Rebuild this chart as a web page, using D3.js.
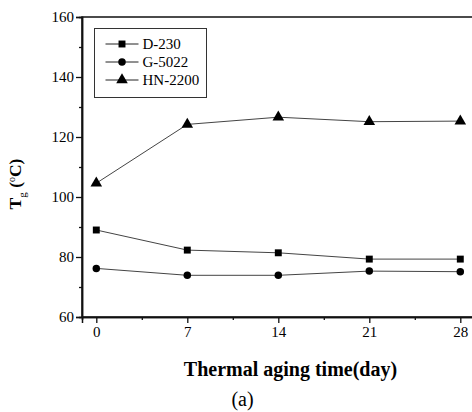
<!DOCTYPE html>
<html>
<head>
<meta charset="utf-8">
<script src="https://cdn.jsdelivr.net/npm/d3@7"></script>
<style>
  body { margin: 0; background: #fff; }
  text { font-family: "Liberation Serif", "Times New Roman", serif; fill: #000; }
</style>
</head>
<body>
<div id="chart"></div>
<script>
// data
var days = [0, 7, 14, 21, 28];
var d230 = [89.0, 82.3, 81.4, 79.3, 79.3];
var g5022 = [76.2, 73.9, 73.9, 75.3, 75.1];
var hn2200 = [104.6, 124.2, 126.6, 125.1, 125.3];
var seriesNames = ["D-230", "G-5022", "HN-2200"];
var yTicks = [60, 80, 100, 120, 140, 160];

var svgWidth = 472;
var svgHeight = 412;

var margin = { top: 17, right: 0, bottom: 95, left: 82 };

var svg = d3.select("#chart")
    .append("svg")
    .attr("width", svgWidth)
    .attr("height", svgHeight);

var xScale = d3.scaleLinear()
    .domain([-1.1, 29])
    .range([margin.left, margin.left + 391.3]);

var yScale = d3.scaleLinear()
    .domain([60, 160])
    .range([svgHeight - margin.bottom, margin.top]);

// frame
svg.append("rect")
    .attr("x", margin.left)
    .attr("y", margin.top)
    .attr("width", 400)
    .attr("height", yScale(60) - margin.top)
    .attr("fill", "none")
    .attr("stroke", "#111")
    .attr("stroke-width", 1.5);

// axes
var xAxis = d3.axisBottom(xScale)
    .tickValues(days)
    .tickSize(6)
    .tickPadding(3)
    .tickFormat(d3.format("d"));

var xMinor = d3.axisBottom(xScale)
    .tickValues([3.5, 10.5, 17.5, 24.5])
    .tickSize(3)
    .tickFormat("");

var yAxis = d3.axisLeft(yScale)
    .tickValues(yTicks)
    .tickSize(6)
    .tickPadding(2);

var yMinor = d3.axisLeft(yScale)
    .tickValues([70, 90, 110, 130, 150])
    .tickSize(3)
    .tickFormat("");

[xAxis, xMinor].forEach(function(ax) {
    svg.append("g")
        .attr("transform", `translate(0, ${yScale(60)})`)
        .call(ax);
});
[yAxis, yMinor].forEach(function(ax) {
    svg.append("g")
        .attr("transform", `translate(${margin.left}, 0)`)
        .call(ax);
});

svg.selectAll(".domain").attr("stroke", "#111").attr("stroke-width", 1.5);
svg.selectAll(".tick line").attr("stroke", "#111").attr("stroke-width", 1.3);
svg.selectAll(".tick text")
    .style("font-family", "Liberation Serif, serif")
    .style("font-size", "15px")
    .attr("fill", "#000");

// series
var allSeries = [d230, g5022, hn2200];
var shapes = [d3.symbolSquare, d3.symbolCircle, d3.symbolTriangle];
var sizes = [48, 44, 58];

var line = d3.line()
    .x((d, i) => xScale(days[i]))
    .y(d => yScale(d));

allSeries.forEach(function(vals, k) {
    svg.append("path")
        .datum(vals)
        .attr("d", line)
        .attr("fill", "none")
        .attr("stroke", "#444")
        .attr("stroke-width", 1);

    svg.selectAll(null)
        .data(vals)
        .enter()
        .append("path")
        .attr("d", d3.symbol().type(shapes[k]).size(sizes[k]))
        .attr("transform", (d, i) => `translate(${xScale(days[i])}, ${yScale(d)})`)
        .attr("fill", "#000");
});

// legend
var legend = svg.append("g").attr("transform", "translate(94.5, 28.5)");
legend.append("rect")
    .attr("width", 112)
    .attr("height", 69)
    .attr("fill", "#fff")
    .attr("stroke", "#333")
    .attr("stroke-width", 1);

seriesNames.forEach(function(name, k) {
    var y = 15.5 + k * 18;
    legend.append("line")
        .attr("x1", 11).attr("x2", 44)
        .attr("y1", y).attr("y2", y)
        .attr("stroke", "#222");
    legend.append("path")
        .attr("d", d3.symbol().type(shapes[k]).size(sizes[k]))
        .attr("transform", `translate(27.5, ${y})`)
        .attr("fill", "#000");
    legend.append("text")
        .attr("x", 48)
        .attr("y", y + 5)
        .style("font-size", "15px")
        .text(name);
});

// axis titles
var yTitle = svg.append("text")
    .attr("transform", "translate(21, 184) rotate(-90)")
    .attr("text-anchor", "middle")
    .style("font-size", "17.5px")
    .style("font-weight", "bold");
yTitle.append("tspan").text("T");
yTitle.append("tspan").attr("dy", 5).style("font-size", "11px").style("font-weight", "normal").text("g");
yTitle.append("tspan").attr("dy", -5).text(" (");
yTitle.append("tspan").attr("dy", -6).style("font-size", "10px").style("font-weight", "normal").text("o");
yTitle.append("tspan").attr("dy", 6).text("C)");

svg.append("text")
    .attr("x", 290.5)
    .attr("y", 376)
    .attr("text-anchor", "middle")
    .style("font-size", "20px")
    .style("font-weight", "bold")
    .text("Thermal aging time(day)");

svg.append("text")
    .attr("x", 242.5)
    .attr("y", 406)
    .attr("text-anchor", "middle")
    .style("font-size", "20px")
    .text("(a)");
</script>
</body>
</html>
